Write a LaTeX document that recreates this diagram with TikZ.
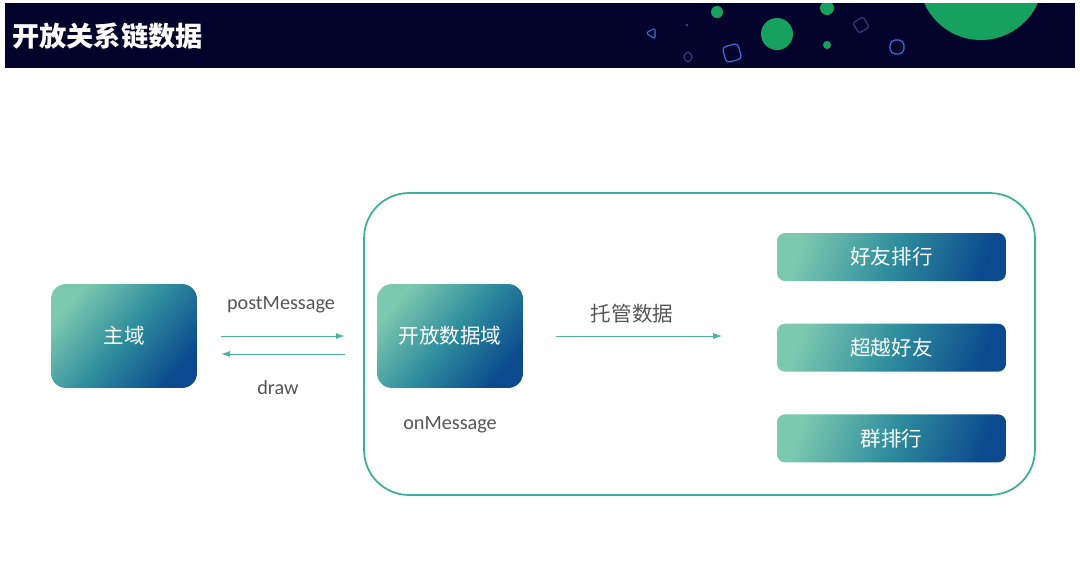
\documentclass[tikz,border=0pt]{standalone}
\usepackage{fontspec}
\setmainfont{Carlito}
\newfontfamily\cjk{Noto Sans CJK SC}
\usetikzlibrary{arrows.meta,positioning}
\definecolor{barnavy}{HTML}{03032B}
\definecolor{dotgreen}{HTML}{17A15E}
\definecolor{lineblue}{HTML}{3B6FD8}
\definecolor{linepurple}{HTML}{3E3F86}
\definecolor{tealL}{HTML}{7DC9AF}
\definecolor{tealM}{HTML}{2F8E9E}
\definecolor{blueD}{HTML}{0B4A8E}
\definecolor{rimteal}{HTML}{3FAE99}
\definecolor{arrteal}{HTML}{4DB39C}
\definecolor{labelgray}{HTML}{555555}
\tikzset{
    %Define standard arrow tip
    >={Latex[length=5pt,width=3.5pt]},
    %Define style for gradient boxes
    domainbox/.style={
           rectangle,
           rounded corners=0.3cm,
           left color=tealL, right color=blueD, middle color=tealM,
           shading angle=50,
           text=white,
           font=\cjk\fontsize{11.7}{14}\selectfont,
           minimum width=2.92cm,
           minimum height=2.08cm},
    % Define style for ranking boxes
    rankbox/.style={
           domainbox,
           shading angle=70,
           rounded corners=0.16cm,
           minimum width=4.58cm,
           minimum height=0.96cm},
    % Define arrow style
    pil/.style={
           ->,
           draw=arrteal,
           line width=0.5pt},
    lbl/.style={text=labelgray, font=\fontsize{11.5}{14}\selectfont},
    cjklbl/.style={text=labelgray, font=\cjk\fontsize{11.7}{14}\selectfont}
}

\begin{document}
\begin{tikzpicture}[x=0.02cm,y=-0.02cm,node distance=0.84cm]
    \fill[white] (0,0) rectangle (1080,586);
    % header
    \fill[barnavy] (5,3) rectangle (1075,68);
    \begin{scope}
      \clip (5,3) rectangle (1075,68);
      \fill[dotgreen] (981,-22) circle (1.24cm);
      \fill[dotgreen] (717,12) circle (0.12cm);
      \fill[dotgreen] (777,34) circle (0.32cm);
      \fill[dotgreen] (827,8) circle (0.14cm);
      \fill[dotgreen] (827,45) circle (0.08cm);
      \fill[linepurple] (687,25) circle (0.03cm);
      \draw[lineblue,line width=0.6pt,rounded corners=1pt]
          (646,33) -- (655,28) -- (655,39) -- cycle;
      \draw[linepurple,line width=0.6pt,rounded corners=1pt]
          (688,51) -- (693,57) -- (688,63) -- (683,57) -- cycle;
      \draw[lineblue,line width=0.7pt,rounded corners=2pt,rotate around={15:(732,53)}]
          (724,45) rectangle (740,61);
      \draw[linepurple,line width=0.6pt,rounded corners=1pt,rotate around={30:(861,25)}]
          (855,19) rectangle (867,31);
      \draw[lineblue,line width=0.7pt,rounded corners=3pt]
          (890,40) rectangle (904,54);
    \end{scope}
    \node (title) [anchor=west,text=white,font=\cjk\bfseries\fontsize{15.5}{18}\selectfont]
          at (6,36) {开放关系链数据};
    % container
    \node (host) [draw=rimteal,line width=1pt,rounded corners=0.9cm,
          minimum width=13.42cm,minimum height=6.04cm] at (699.5,344) {};
    % boxes
    \node (main) [domainbox] at (124,336) {主域};
    \node (open) [domainbox] at (450,336) {开放数据域};
    \node (friends) [rankbox] at (891.5,257) {好友排行};
    \node (beyond) [rankbox] [below=of friends] {超越好友};
    \node (group) [rankbox] [below=of beyond] {群排行};
    % connectors
    \draw[pil,shorten <=0.48cm,shorten >=0.64cm] (main.east) -- (open.west);
    \draw[pil,shorten <=0.64cm,shorten >=0.48cm]
          ([yshift=-0.36cm]open.west) -- ([yshift=-0.36cm]main.east);
    \coordinate (hostend) at (722,336);
    \draw[pil,shorten <=0.66cm] (open.east) -- (hostend);
    % labels
    \node (post) [lbl] at (281,305) {postMessage};
    \node (drawlbl) [lbl] at (278,388) {draw};
    \node (onmsg) [lbl] at (450,425) {onMessage};
    \node (hostlbl) [cjklbl] at (632,314) {托管数据};
\end{tikzpicture}
\end{document}
